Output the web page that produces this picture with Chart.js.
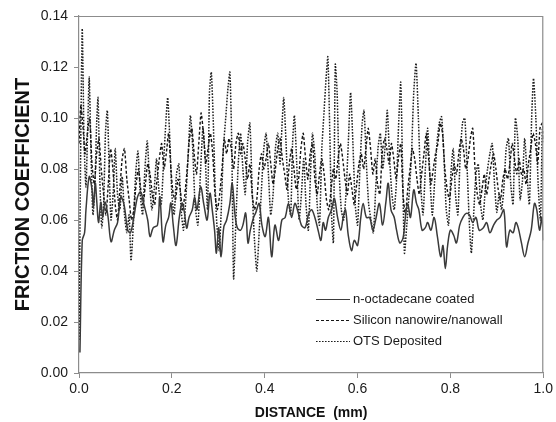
<!DOCTYPE html>
<html><head><meta charset="utf-8">
<script src="https://cdn.jsdelivr.net/npm/chart.js@4/dist/chart.umd.min.js"></script>
<style>html,body{margin:0;padding:0;background:#fff}</style>
</head><body>
<canvas id="c" width="556" height="422" style="width:556px;height:422px;display:block"></canvas>
<script>
// n-octadecane coated (solid)
const coatedX=[0.002,0.007,0.012,0.015,0.022,0.028,0.031,0.035,0.038,0.042,0.047,0.051,0.056,0.062,0.069,0.076,0.083,0.090,0.097,0.105,0.111,0.118,0.126,0.133,0.140,0.148,0.153,0.160,0.169,0.174,0.181,0.187,0.193,0.198,0.203,0.209,0.216,0.222,0.227,0.232,0.237,0.244,0.249,0.254,0.262,0.269,0.276,0.282,0.287,0.292,0.296,0.301,0.306,0.312,0.318,0.325,0.330,0.336,0.341,0.348,0.353,0.359,0.364,0.369,0.376,0.381,0.388,0.394,0.401,0.408,0.415,0.422,0.430,0.437,0.444,0.451,0.458,0.465,0.472,0.479,0.487,0.494,0.501,0.508,0.515,0.521,0.526,0.531,0.537,0.544,0.550,0.557,0.564,0.569,0.574,0.580,0.587,0.593,0.600,0.607,0.612,0.619,0.626,0.633,0.640,0.647,0.654,0.661,0.666,0.672,0.679,0.684,0.691,0.698,0.703,0.708,0.714,0.721,0.727,0.732,0.739,0.746,0.751,0.758,0.765,0.772,0.779,0.784,0.789,0.794,0.800,0.807,0.813,0.820,0.827,0.834,0.841,0.848,0.855,0.862,0.871,0.878,0.885,0.893,0.900,0.907,0.915,0.921,0.928,0.935,0.941,0.946,0.953,0.960,0.967,0.974,0.981,0.986,0.992,0.997,1.000];
const coatedY=[0.008,0.052,0.055,0.064,0.077,0.072,0.065,0.0745,0.068,0.059,0.067,0.061,0.067,0.062,0.0515,0.056,0.059,0.069,0.066,0.056,0.055,0.061,0.069,0.071,0.066,0.060,0.0535,0.057,0.058,0.069,0.0515,0.058,0.061,0.0667,0.058,0.050,0.061,0.0667,0.063,0.0568,0.061,0.064,0.069,0.064,0.073,0.066,0.060,0.0705,0.064,0.056,0.047,0.057,0.0456,0.0574,0.060,0.0665,0.0744,0.062,0.057,0.056,0.058,0.0627,0.051,0.056,0.061,0.063,0.0665,0.058,0.0535,0.061,0.0456,0.058,0.052,0.060,0.061,0.0665,0.061,0.0665,0.063,0.058,0.057,0.062,0.064,0.061,0.056,0.052,0.059,0.056,0.061,0.064,0.0685,0.061,0.056,0.061,0.064,0.054,0.048,0.052,0.050,0.061,0.0665,0.061,0.061,0.056,0.061,0.0665,0.058,0.067,0.0744,0.064,0.061,0.056,0.051,0.053,0.061,0.0665,0.061,0.0718,0.0665,0.064,0.056,0.057,0.059,0.056,0.061,0.0535,0.0456,0.050,0.041,0.050,0.056,0.054,0.051,0.058,0.061,0.0626,0.062,0.059,0.061,0.056,0.057,0.059,0.055,0.058,0.060,0.061,0.064,0.0495,0.056,0.055,0.059,0.057,0.051,0.0456,0.051,0.056,0.0665,0.064,0.056,0.061,0.052];

// Silicon nanowire/nanowall (dashed)
const siliconX=[0.000,0.004,0.008,0.013,0.018,0.023,0.028,0.033,0.038,0.043,0.048,0.053,0.058,0.063,0.068,0.073,0.078,0.083,0.088,0.093,0.098,0.103,0.108,0.113,0.118,0.123,0.128,0.133,0.138,0.143,0.148,0.153,0.158,0.163,0.168,0.173,0.178,0.183,0.188,0.193,0.198,0.203,0.208,0.213,0.218,0.223,0.228,0.233,0.238,0.243,0.248,0.253,0.258,0.263,0.268,0.273,0.278,0.283,0.288,0.293,0.298,0.303,0.308,0.313,0.318,0.323,0.328,0.333,0.338,0.343,0.348,0.353,0.358,0.363,0.368,0.373,0.378,0.383,0.388,0.393,0.398,0.403,0.408,0.413,0.418,0.423,0.428,0.433,0.438,0.443,0.448,0.453,0.458,0.463,0.468,0.473,0.478,0.483,0.488,0.493,0.498,0.503,0.508,0.513,0.518,0.523,0.528,0.533,0.538,0.543,0.548,0.553,0.558,0.563,0.568,0.573,0.578,0.583,0.588,0.593,0.598,0.603,0.608,0.613,0.618,0.623,0.628,0.633,0.638,0.643,0.648,0.653,0.658,0.663,0.668,0.673,0.678,0.683,0.688,0.693,0.698,0.703,0.708,0.713,0.718,0.723,0.728,0.733,0.738,0.743,0.748,0.753,0.758,0.763,0.768,0.773,0.778,0.783,0.788,0.793,0.798,0.803,0.808,0.813,0.818,0.823,0.828,0.833,0.838,0.843,0.848,0.853,0.858,0.863,0.868,0.873,0.878,0.883,0.888,0.893,0.898,0.903,0.908,0.913,0.918,0.923,0.928,0.933,0.938,0.943,0.948,0.953,0.958,0.963,0.968,0.973,0.978,0.983,0.988,0.993,0.998,1.000];
const siliconY=[0.090,0.105,0.098,0.086,0.094,0.100,0.082,0.074,0.086,0.092,0.080,0.070,0.062,0.074,0.088,0.080,0.066,0.060,0.072,0.084,0.088,0.076,0.068,0.060,0.064,0.074,0.080,0.072,0.066,0.074,0.082,0.078,0.070,0.066,0.076,0.084,0.090,0.080,0.086,0.094,0.080,0.070,0.068,0.076,0.072,0.064,0.070,0.080,0.092,0.096,0.086,0.078,0.090,0.102,0.094,0.082,0.088,0.094,0.086,0.070,0.064,0.070,0.080,0.092,0.086,0.092,0.088,0.080,0.090,0.094,0.086,0.090,0.084,0.076,0.082,0.070,0.064,0.068,0.080,0.086,0.080,0.084,0.090,0.082,0.074,0.080,0.088,0.092,0.084,0.078,0.072,0.082,0.088,0.080,0.072,0.076,0.088,0.094,0.084,0.076,0.086,0.090,0.076,0.070,0.078,0.084,0.078,0.068,0.064,0.072,0.080,0.076,0.084,0.090,0.084,0.076,0.070,0.078,0.072,0.066,0.074,0.082,0.086,0.080,0.088,0.096,0.088,0.078,0.084,0.074,0.070,0.086,0.092,0.088,0.082,0.090,0.084,0.076,0.084,0.090,0.070,0.062,0.072,0.080,0.088,0.084,0.076,0.070,0.078,0.086,0.094,0.084,0.074,0.080,0.086,0.090,0.098,0.094,0.080,0.072,0.068,0.076,0.082,0.078,0.086,0.092,0.088,0.080,0.084,0.092,0.096,0.080,0.070,0.066,0.072,0.078,0.070,0.076,0.082,0.086,0.080,0.072,0.068,0.076,0.080,0.076,0.082,0.090,0.084,0.078,0.084,0.078,0.080,0.074,0.082,0.088,0.094,0.090,0.082,0.096,0.098,0.092];

// OTS Deposited (dotted)
const otsX=[0.000,0.004,0.007,0.011,0.015,0.019,0.022,0.026,0.030,0.034,0.038,0.041,0.045,0.049,0.053,0.057,0.061,0.065,0.069,0.074,0.078,0.083,0.088,0.093,0.098,0.103,0.108,0.112,0.117,0.122,0.127,0.132,0.137,0.142,0.147,0.152,0.157,0.162,0.167,0.172,0.177,0.182,0.187,0.191,0.196,0.200,0.205,0.210,0.215,0.220,0.225,0.230,0.235,0.240,0.245,0.250,0.256,0.262,0.267,0.272,0.277,0.281,0.285,0.289,0.293,0.297,0.302,0.306,0.311,0.316,0.321,0.325,0.329,0.333,0.338,0.343,0.348,0.353,0.358,0.363,0.368,0.373,0.378,0.383,0.388,0.393,0.398,0.403,0.408,0.413,0.418,0.423,0.428,0.433,0.437,0.441,0.446,0.451,0.456,0.460,0.464,0.469,0.474,0.479,0.484,0.489,0.494,0.499,0.503,0.508,0.513,0.518,0.523,0.527,0.532,0.536,0.540,0.544,0.548,0.552,0.556,0.560,0.565,0.570,0.575,0.580,0.585,0.590,0.595,0.600,0.605,0.610,0.614,0.619,0.624,0.629,0.634,0.639,0.644,0.649,0.654,0.659,0.664,0.669,0.674,0.679,0.684,0.689,0.693,0.697,0.701,0.706,0.711,0.716,0.721,0.726,0.731,0.736,0.741,0.746,0.751,0.756,0.761,0.766,0.771,0.776,0.781,0.786,0.791,0.796,0.801,0.806,0.811,0.816,0.821,0.826,0.831,0.836,0.841,0.845,0.850,0.855,0.860,0.865,0.870,0.875,0.880,0.885,0.890,0.895,0.900,0.905,0.910,0.915,0.920,0.925,0.930,0.935,0.940,0.945,0.950,0.955,0.960,0.965,0.970,0.975,0.979,0.984,0.989,0.994,0.998,1.000];
const otsY=[0.013,0.095,0.135,0.090,0.073,0.098,0.116,0.085,0.062,0.072,0.098,0.108,0.075,0.057,0.066,0.094,0.103,0.080,0.060,0.072,0.088,0.070,0.064,0.077,0.062,0.055,0.062,0.044,0.058,0.078,0.087,0.070,0.062,0.080,0.091,0.075,0.064,0.072,0.084,0.072,0.066,0.082,0.098,0.108,0.090,0.070,0.062,0.078,0.082,0.064,0.056,0.068,0.085,0.101,0.088,0.066,0.058,0.080,0.096,0.084,0.064,0.110,0.118,0.100,0.074,0.058,0.048,0.062,0.088,0.100,0.112,0.118,0.090,0.037,0.060,0.082,0.094,0.080,0.070,0.090,0.098,0.072,0.052,0.040,0.055,0.072,0.088,0.094,0.078,0.062,0.070,0.088,0.094,0.082,0.096,0.108,0.090,0.068,0.062,0.090,0.101,0.082,0.060,0.070,0.084,0.066,0.056,0.080,0.094,0.085,0.066,0.058,0.088,0.100,0.115,0.124,0.096,0.062,0.051,0.121,0.110,0.080,0.064,0.060,0.070,0.090,0.110,0.090,0.066,0.058,0.080,0.098,0.103,0.082,0.066,0.060,0.055,0.072,0.088,0.094,0.080,0.088,0.103,0.084,0.070,0.064,0.076,0.100,0.114,0.080,0.047,0.058,0.070,0.085,0.110,0.1215,0.100,0.074,0.062,0.080,0.096,0.076,0.062,0.075,0.090,0.098,0.1005,0.085,0.064,0.058,0.078,0.088,0.070,0.062,0.085,0.098,0.100,0.080,0.058,0.047,0.062,0.078,0.082,0.066,0.060,0.072,0.080,0.086,0.090,0.074,0.063,0.070,0.064,0.072,0.088,0.092,0.074,0.066,0.100,0.092,0.068,0.075,0.092,0.078,0.066,0.100,0.1155,0.100,0.074,0.060,0.096,0.090];

const seriesNames=['n-octadecane coated','Silicon nanowire/nanowall','OTS Deposited'];
const xTicks=[0,0.2,0.4,0.6,0.8,1.0];
const yTicks=[0,0.02,0.04,0.06,0.08,0.10,0.12,0.14];

function pts(xs,ys){return xs.map((x,i)=>({x:x,y:ys[i]}));}

const FONT='"Liberation Sans", Arial, sans-serif';
const styles=[
  {color:'#3a3a3a',dash:[],width:1.5,tension:0.35},
  {color:'#151515',dash:[3,2],width:1.4,tension:0.2},
  {color:'#1e1e1e',dash:[1.6,1.4],width:1.5,tension:0.2}
];

const frameAndLegend={
  id:'frameAndLegend',
  afterDatasetsDraw(chart){
    const ctx=chart.ctx,a=chart.chartArea;
    ctx.save();
    ctx.strokeStyle='#8c8c8c';ctx.lineWidth=1.2;
    ctx.beginPath();
    ctx.moveTo(a.left,a.top+0.5);ctx.lineTo(a.right-0.5,a.top+0.5);ctx.lineTo(a.right-0.5,a.bottom);
    ctx.stroke();
    const rows=[299,320,341];
    ctx.font='13px '+FONT;
    ctx.textBaseline='middle';ctx.fillStyle='#1a1a1a';
    chart.data.datasets.forEach((ds,i)=>{
      const y=rows[i];
      ctx.save();
      ctx.strokeStyle=ds.borderColor;ctx.lineWidth=Math.min(ds.borderWidth,1.2);
      ctx.setLineDash(ds.borderDash||[]);
      ctx.beginPath();ctx.moveTo(316,y+0.5);ctx.lineTo(350,y+0.5);ctx.stroke();
      ctx.restore();
      ctx.fillText(ds.label,353,y);
    });
    ctx.restore();
  }
};

new Chart(document.getElementById('c'),{
  type:'line',
  data:{datasets:[
    {label:seriesNames[0],data:pts(coatedX,coatedY)},
    {label:seriesNames[1],data:pts(siliconX,siliconY)},
    {label:seriesNames[2],data:pts(otsX,otsY)}
  ].map((d,i)=>Object.assign(d,{borderColor:styles[i].color,borderDash:styles[i].dash,borderWidth:styles[i].width,tension:styles[i].tension,pointRadius:0,fill:false}))},
  options:{
    responsive:false,animation:false,devicePixelRatio:1,
    layout:{padding:{top:16,right:11,left:0,bottom:0}},
    plugins:{legend:{display:false},tooltip:{enabled:false}},
    scales:{
      x:{type:'linear',min:0,max:1,
        afterBuildTicks(s){s.ticks=xTicks.map(v=>({value:v}));},
        afterFit(s){s.height=49;},
        border:{color:'#8c8c8c',width:1.2},
        grid:{display:true,drawOnChartArea:false,drawTicks:true,tickLength:5,color:'#8c8c8c'},
        ticks:{color:'#1a1a1a',font:{family:FONT,size:14},padding:3,maxRotation:0,callback:v=>Number(v).toFixed(1)},
        title:{display:true,text:'DISTANCE  (mm)',color:'#111',font:{family:FONT,size:14,weight:'bold'},padding:{top:0,bottom:0}}
      },
      y:{type:'linear',min:0,max:0.14,
        afterBuildTicks(s){s.ticks=yTicks.map(v=>({value:v}));},
        afterFit(s){s.width=79;},
        border:{color:'#8c8c8c',width:1.2},
        grid:{display:true,drawOnChartArea:false,drawTicks:true,tickLength:5,color:'#8c8c8c'},
        ticks:{color:'#1a1a1a',font:{family:FONT,size:14},padding:6,callback:v=>Number(v).toFixed(2)},
        title:{display:true,text:'FRICTION COEFFICIENT',color:'#111',font:{family:FONT,size:20,weight:'bold'},padding:{top:11,bottom:0}}
      }
    }
  },
  plugins:[frameAndLegend]
});
</script>
</body></html>
